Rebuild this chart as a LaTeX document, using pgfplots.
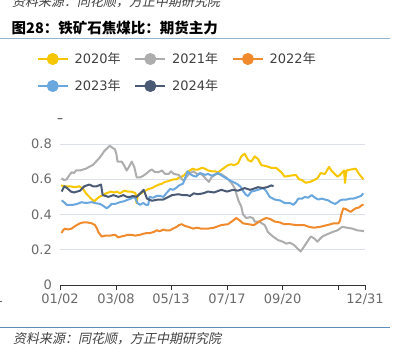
\documentclass[border=0pt]{standalone}
\usepackage{pgfplots}
\pgfplotsset{compat=1.18}
\usepackage{fontspec}
\setmainfont{DejaVu Sans}
\newfontfamily\cjk{Noto Sans CJK SC}
\newfontfamily\cjkit{Noto Sans CJK SC}[FakeSlant=0.2]
\definecolor{c2020}{HTML}{F6C600}
\definecolor{c2021}{HTML}{ADADAD}
\definecolor{c2022}{HTML}{F08A2C}
\definecolor{c2023}{HTML}{6AA7DF}
\definecolor{c2024}{HTML}{4A5A75}
\definecolor{gridc}{HTML}{DCE0EA}
\definecolor{tickc}{HTML}{6A6A6A}
\definecolor{toplinec}{HTML}{8FB4CC}
\definecolor{botlinec}{HTML}{5B8DB8}
\begin{document}
\begin{tikzpicture}
\useasboundingbox (0,0) rectangle (394pt,356pt);
\node[anchor=west, inner sep=0pt, font=\cjkit\fontsize{13}{13}\selectfont, text=black!75] at (12pt,354.5pt) {资料来源：同花顺，方正中期研究院};
\node[anchor=west, inner sep=0pt, font=\cjk\bfseries\fontsize{14.5}{14.5}\selectfont] at (11.5pt,328.5pt) {图28：铁矿石焦煤比：期货主力};
\draw[color=toplinec, line width=0.8pt] (0pt,318pt) -- (390pt,318pt);
\draw[color=botlinec, line width=0.8pt] (0pt,29pt) -- (390pt,29pt);
\node[anchor=west, inner sep=0pt, font=\cjkit\fontsize{13}{13}\selectfont, text=black!75] at (13pt,17pt) {资料来源：同花顺，方正中期研究院};
\node[anchor=base, inner sep=0pt, font=\fontsize{12}{12}\selectfont, text=black!85] at (60pt,233.5pt) {–};
\node[anchor=base east, inner sep=0pt, font=\fontsize{13}{13}\selectfont, text=tickc] at (3.5pt,53pt) {1};
\begin{axis}[
  at={(60pt,71pt)}, anchor=south west, scale only axis,
  width=305pt, height=141pt,
  xmin=60, xmax=365, ymin=0, ymax=0.8,
  axis x line=bottom, axis y line=left, axis line style={-},
  x axis line style={black!80, line width=0.8pt},
  y axis line style={draw=none},
  tick align=outside, major tick length=5pt,
  xtick style={black!80, line width=0.8pt},
  ytick style={draw=none},
  ymajorgrids, grid style={gridc, line width=0.8pt},
  ytick={0,0.2,0.4,0.6,0.8}, yticklabels={0,0.2,0.4,0.6,0.8},
  xtick={60,116,171,227,282.7,338.3,365},
  xticklabels={01/02,03/08,05/13,07/17,09/20,,12/31},
  tick label style={font=\fontsize{13}{13}\selectfont, text=tickc},
  yticklabel style={inner sep=0pt, xshift=-3pt},
  xticklabel style={inner sep=0pt, yshift=-3.5pt},
  legend columns=3,
  legend style={draw=none, fill=none, inner sep=0pt, outer sep=0pt,
    at={(axis description cs:-0.0754,1.6454)}, anchor=north west,
    font=\fontsize{13}{13}\selectfont, text=black!75,
    nodes={inner sep=0pt, text height=9.5pt, text depth=0pt},
    row sep=15pt, column sep=6pt,
    /tikz/every even column/.append style={column sep=14pt}},
  legend cell align=left,
  legend image code/.code={\draw[#1, line width=1.5pt] (0pt,0pt) -- (30pt,0pt); \fill[#1] (15pt,0pt) circle (5pt);},
  every axis plot/.append style={line width=2pt, line join=round},
]
\addplot[c2020] coordinates {(61,0.565)(65,0.56)(70,0.56)(75,0.555)(79.3,0.56)(83,0.545)(86,0.52)(88.5,0.505)(91,0.49)(94.3,0.475)(97,0.49)(99.3,0.50)(103,0.51)(106,0.52)(111,0.53)(114,0.525)(117,0.53)(120,0.52)(124.3,0.535)(128,0.53)(131,0.53)(134,0.525)(135.5,0.52)(136.5,0.465)(137.8,0.51)(141,0.52)(143.7,0.53)(148.7,0.545)(152,0.55)(155.3,0.56)(159,0.57)(162,0.575)(165,0.585)(168.7,0.59)(171,0.595)(174,0.60)(176.7,0.60)(179,0.61)(182,0.615)(184.5,0.625)(187,0.64)(190,0.65)(192.5,0.66)(195,0.655)(198,0.655)(202,0.665)(205,0.66)(208,0.65)(212,0.645)(215,0.645)(218.3,0.64)(223,0.66)(225.5,0.67)(228,0.68)(231,0.685)(234,0.68)(238,0.69)(241.3,0.73)(244.7,0.745)(248,0.71)(251.3,0.70)(254.7,0.73)(258,0.715)(261.3,0.68)(266,0.675)(271.3,0.665)(276,0.665)(281.3,0.64)(284.7,0.615)(290,0.62)(295.7,0.625)(299,0.60)(302,0.595)(305.7,0.58)(310,0.585)(314,0.595)(317.3,0.605)(320.7,0.635)(325,0.63)(329,0.67)(332,0.645)(337.3,0.615)(340,0.625)(344,0.65)(345,0.58)(346.5,0.65)(350.7,0.655)(355.7,0.66)(359,0.63)(363.3,0.60)};
\addlegendentry{2020{\cjk 年}}
\addplot[c2021] coordinates {(61.7,0.606)(64,0.595)(66.7,0.60)(69,0.62)(71.7,0.64)(74,0.635)(76,0.65)(80,0.65)(83,0.655)(86,0.66)(89,0.67)(92.7,0.68)(96,0.70)(99.3,0.72)(102,0.74)(104.3,0.76)(107,0.775)(109.8,0.79)(112,0.78)(115,0.77)(116.5,0.74)(117.5,0.70)(121.7,0.70)(124,0.68)(126.7,0.65)(129,0.67)(131.7,0.70)(134.3,0.67)(136.7,0.61)(140,0.61)(143.3,0.62)(147,0.635)(150,0.65)(152,0.655)(155,0.64)(158.3,0.64)(162,0.65)(165,0.63)(168.7,0.63)(171,0.645)(174,0.63)(178.7,0.625)(182,0.60)(184,0.59)(186,0.61)(190,0.635)(193.3,0.645)(197,0.63)(201,0.63)(204,0.615)(207,0.595)(209,0.585)(211.3,0.61)(216.3,0.63)(221,0.63)(226.3,0.61)(231.3,0.58)(234.7,0.55)(237.3,0.50)(238.7,0.475)(241.3,0.445)(243,0.40)(246.3,0.38)(250,0.385)(253,0.38)(254.7,0.36)(259,0.36)(264.7,0.34)(268,0.30)(273,0.275)(278,0.255)(283,0.245)(286.3,0.235)(290,0.24)(294,0.227)(297,0.21)(300.7,0.19)(304,0.218)(307.3,0.246)(310.7,0.275)(314,0.265)(317.3,0.246)(322.3,0.275)(327.3,0.288)(332.3,0.30)(337.3,0.31)(342.3,0.33)(347,0.325)(352.3,0.32)(357.3,0.31)(362.3,0.307)(364,0.305)};
\addlegendentry{2021{\cjk 年}}
\addplot[c2022] coordinates {(61.7,0.295)(63,0.31)(65,0.32)(68,0.315)(71.7,0.32)(74,0.33)(76.7,0.34)(80,0.35)(83.3,0.355)(87,0.355)(91.7,0.35)(95,0.34)(97,0.32)(98.3,0.30)(101.7,0.275)(105,0.28)(110,0.28)(115,0.285)(118.3,0.27)(121,0.275)(125,0.28)(128,0.285)(131.7,0.285)(135,0.28)(140,0.285)(143,0.29)(146.7,0.295)(150,0.295)(153.3,0.30)(156.7,0.31)(160,0.305)(163.3,0.315)(166,0.31)(170,0.31)(173,0.32)(176.7,0.33)(179,0.34)(181.7,0.345)(185,0.335)(188.3,0.33)(193.3,0.32)(197,0.325)(201,0.32)(208,0.32)(214,0.325)(221.3,0.34)(228,0.345)(233,0.365)(236.3,0.38)(240,0.365)(243,0.35)(248,0.345)(254,0.34)(258,0.355)(262,0.37)(266.3,0.38)(270,0.375)(274.7,0.36)(280,0.355)(284,0.345)(290,0.345)(296,0.34)(304,0.34)(309,0.33)(314,0.325)(320,0.33)(327.3,0.34)(334,0.35)(338.5,0.35)(340,0.365)(341.3,0.40)(343.3,0.435)(346,0.43)(350.7,0.415)(353,0.425)(355.7,0.435)(359,0.44)(362.3,0.455)(363.5,0.455)};
\addlegendentry{2022{\cjk 年}}
\addplot[c2023] coordinates {(61.7,0.48)(64,0.47)(66.7,0.455)(70,0.455)(73.3,0.455)(77,0.46)(81.7,0.47)(86,0.465)(91.7,0.47)(95,0.465)(100,0.46)(103,0.45)(106.7,0.435)(109,0.445)(111.7,0.46)(115,0.46)(120,0.47)(124,0.475)(128.3,0.485)(131,0.49)(133.3,0.50)(135.5,0.49)(137.5,0.465)(140,0.455)(143.3,0.465)(146,0.455)(148.3,0.455)(149.5,0.50)(153,0.495)(156.7,0.505)(160,0.505)(163.3,0.50)(167,0.525)(170.3,0.545)(173,0.54)(176,0.55)(179,0.565)(183,0.575)(185.3,0.61)(187.5,0.645)(190,0.63)(193,0.62)(196,0.615)(200,0.635)(205,0.625)(208,0.63)(212,0.62)(218,0.635)(222,0.62)(228,0.60)(231,0.59)(234.7,0.58)(238,0.57)(241,0.555)(243.5,0.53)(246.3,0.51)(248,0.505)(251.3,0.53)(255,0.535)(258,0.54)(263,0.55)(266,0.535)(269.7,0.50)(274.7,0.485)(280,0.48)(284.7,0.465)(290,0.465)(293.3,0.455)(296,0.47)(298.3,0.49)(302,0.49)(305,0.50)(308,0.495)(311.7,0.51)(315,0.495)(318.3,0.485)(322,0.49)(325,0.485)(328.3,0.48)(331,0.47)(335,0.46)(338,0.47)(340,0.48)(343,0.485)(346.7,0.485)(350,0.49)(353.3,0.49)(356,0.495)(358.3,0.50)(361,0.505)(363.3,0.52)};
\addlegendentry{2023{\cjk 年}}
\addplot[c2024] coordinates {(61.7,0.53)(64.3,0.56)(67,0.55)(71,0.53)(74,0.525)(77,0.53)(80,0.535)(84.3,0.56)(89.3,0.57)(93,0.56)(96.7,0.56)(101,0.57)(102.7,0.51)(106,0.505)(108.3,0.50)(111,0.505)(113.3,0.51)(116,0.505)(118.3,0.50)(121,0.505)(123.3,0.51)(127,0.50)(130,0.50)(133,0.505)(136.7,0.50)(140.3,0.52)(143.7,0.54)(147,0.49)(152,0.478)(158,0.485)(163.3,0.485)(168.7,0.50)(172,0.51)(178.3,0.515)(183,0.51)(187,0.51)(190,0.505)(193.7,0.52)(198,0.515)(203,0.52)(208,0.53)(214,0.525)(221.3,0.54)(227,0.53)(233,0.54)(238,0.535)(244.7,0.55)(250,0.54)(253,0.545)(258,0.555)(263,0.55)(267,0.555)(271.3,0.565)(273.5,0.56)};
\addlegendentry{2024{\cjk 年}}
\end{axis}
\end{tikzpicture}
\end{document}
